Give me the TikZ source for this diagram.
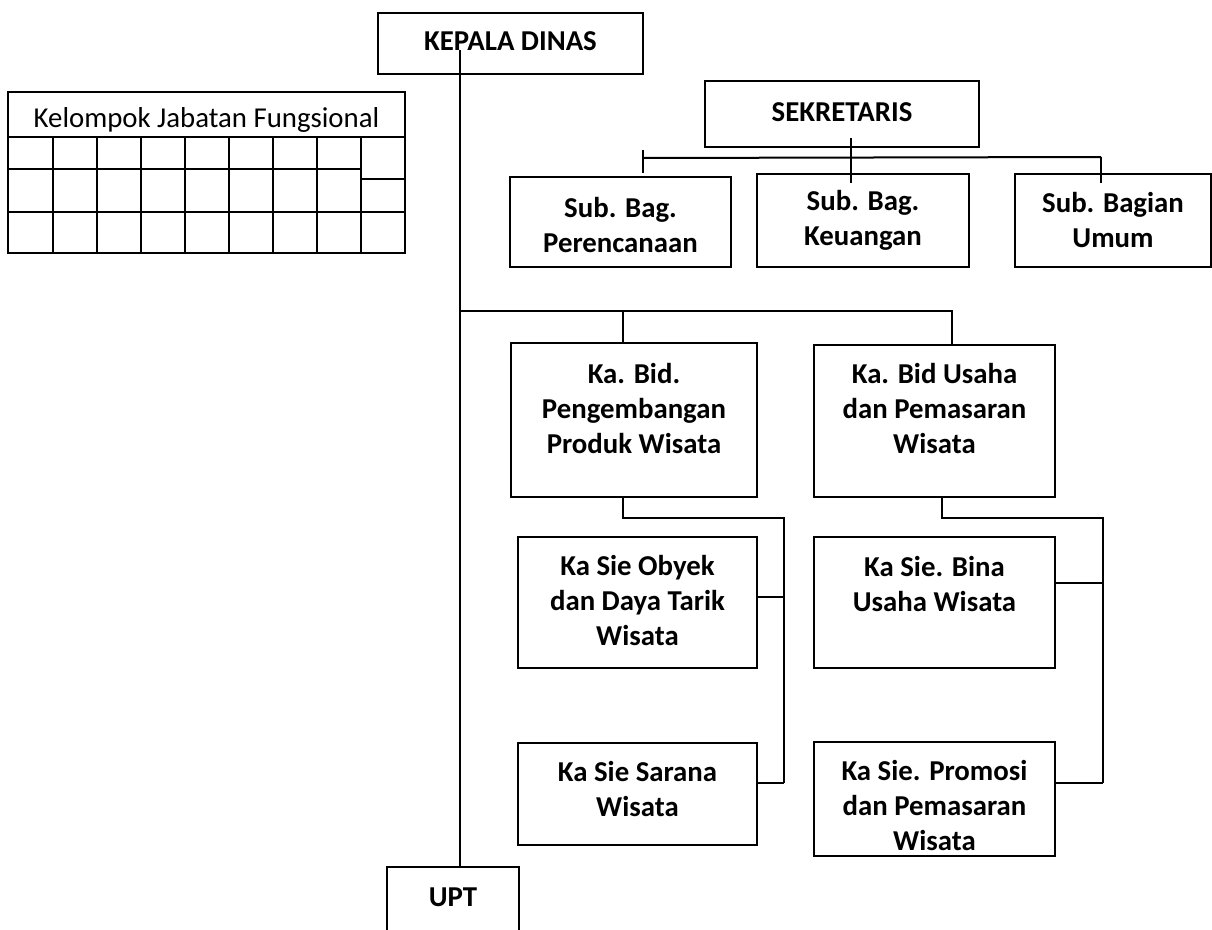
\documentclass[tikz,border=0pt]{standalone}
\usepackage{fontspec}
\setmainfont{Carlito}
\begin{document}
\begin{tikzpicture}[x=1pt,y=-1pt,
  box/.style={draw,line width=2pt,rectangle,inner sep=0pt,outer sep=0pt},
  lbl/.style={font=\fontsize{28.8}{35}\selectfont\bfseries,align=center,inner sep=0pt},
  conn/.style={line width=2pt}]
\useasboundingbox (0,0) rectangle (1212,929);
\fill[white] (0,0) rectangle (1212,929);
% boxes
\node[box,minimum width=265,minimum height=61] (kd) at (510.5,43.5) {};
\node[lbl] (kdt) at (510.5,41) {KEPALA DINAS};
\node[box,minimum width=274,minimum height=66] (sek) at (842,114) {};
\node[lbl] (sekt) at (842,112) {SEKRETARIS};
\node[box,minimum width=221,minimum height=90] (sbp) at (620.5,222) {};
\node[lbl] (sbpt) at (620.5,224.5) {Sub. Bag.\\Perencanaan};
\node[box,minimum width=212,minimum height=93] (sbk) at (863,220.5) {};
\node[lbl] (sbkt) at (863,220) {Sub. Bag.\\Keuangan};
\node[box,minimum width=196,minimum height=93] (sbu) at (1113,220.5) {};
\node[lbl] (sbut) at (1113,220) {Sub. Bagian\\Umum};
\node[box,minimum width=246,minimum height=154] (kbp) at (634,420) {};
\node[lbl] (kbpt) at (634,408) {Ka. Bid.\\Pengembangan\\Produk Wisata};
\node[box,minimum width=241,minimum height=152] (kbu) at (934.5,421) {};
\node[lbl] (kbut) at (934.5,408) {Ka. Bid Usaha\\dan Pemasaran\\Wisata};
\node[box,minimum width=239,minimum height=131] (oby) at (637.5,602.5) {};
\node[lbl] (obyt) at (637.5,600) {Ka Sie Obyek\\dan Daya Tarik\\Wisata};
\node[box,minimum width=239,minimum height=102] (sar) at (637.5,794) {};
\node[lbl] (sart) at (637.5,788.5) {Ka Sie Sarana\\Wisata};
\node[box,minimum width=241,minimum height=131] (bin) at (934.5,602.5) {};
\node[lbl] (bint) at (934.5,584) {Ka Sie. Bina\\Usaha Wisata};
\node[box,minimum width=241,minimum height=114] (pro) at (934.5,799) {};
\node[lbl] (prot) at (934.5,805) {Ka Sie. Promosi\\dan Pemasaran\\Wisata};
\node[box,minimum width=132,minimum height=100] (upt) at (453,917) {};
\node[lbl] (uptt) at (453,897) {UPT};
% kelompok jabatan fungsional table
\node[font=\fontsize{28.8}{35}\selectfont,inner sep=0pt] (kjf) at (206.5,120) {Kelompok Jabatan Fungsional};
\draw[line width=2pt] (8,92) rectangle (405,253);
\draw[line width=2pt] (8,137) -- (405,137);
\draw[line width=2pt] (8,169) -- (361,169);
\draw[line width=2pt] (361,179) -- (405,179);
\draw[line width=2pt] (8,212) -- (405,212);
\foreach \x in {53,97,141,185,229,273,317,361}
  \draw[line width=2pt] (\x,137) -- (\x,253);
% connectors
\coordinate (kdl) at (460,50);
\draw[conn] (kdl) -- (kdl |- upt.north);
\coordinate (j1) at (460,311);
\draw[conn] (j1) -- (952,311) -- (952,311 |- kbu.north);
\draw[conn] (623,311) -- (623,311 |- kbp.north);
% sekretaris
\coordinate (sl) at (851,138);
\draw[conn] (sl) -- (851,183);
\draw[conn] (643,158) -- (1101,157);
\draw[conn] (643,150) -- (643,173);
\draw[conn] (1101,157) -- (1101,183);
% bidang pengembangan
\draw[conn] (623,497) -- (623,518) -- (784,518) -- (784,783);
\draw[conn] (oby.east |- 0,597) -- (784,597);
\draw[conn] (sar.east |- 0,783) -- (784,783);
% bidang usaha
\draw[conn] (942,497) -- (942,518) -- (1103,518) -- (1103,783);
\draw[conn] (bin.east |- 0,583) -- (1103,583);
\draw[conn] (pro.east |- 0,783) -- (1103,783);
\end{tikzpicture}
\end{document}
